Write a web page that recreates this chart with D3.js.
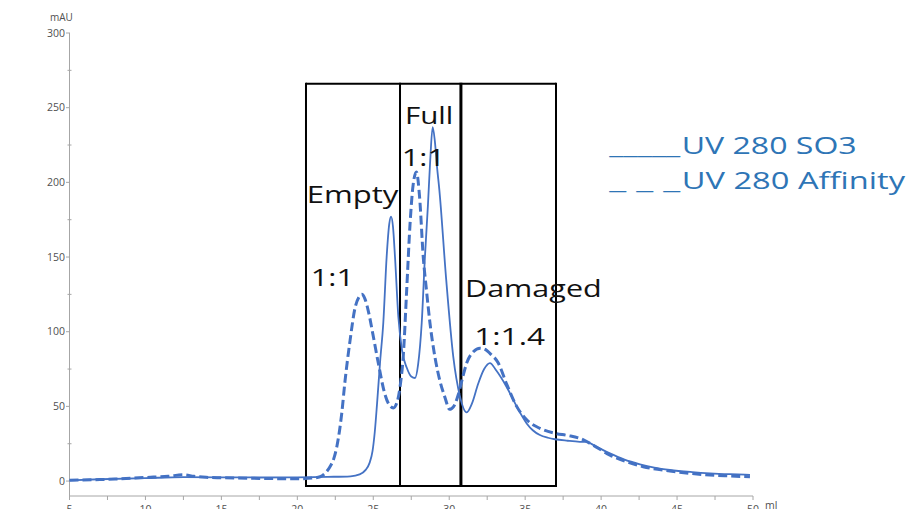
<!DOCTYPE html>
<html><head><meta charset="utf-8">
<script src="https://cdn.jsdelivr.net/npm/d3@7"></script>
<style>html,body{margin:0;padding:0;background:#fff;overflow:hidden}</style>
</head><body><svg id="c" width="912" height="509"></svg>
<script>
// ---- data ----
const so3Ml = [5,7,10,12.5,15,17.5,20,22,23.5,24.1,24.5,24.75,24.95,25.1,25.25,25.45,25.66,25.88,26.05,26.17,26.3,26.43,26.65,26.9,27.2,27.5,27.75,27.95,28.19,28.4,28.6,28.75,28.91,29.05,29.2,29.35,29.8,30.27,30.7,31.15,31.5,31.9,32.3,32.68,33.1,33.78,34.44,35.1,35.5,35.97,36.5,36.96,37.8,38.6,39.05,39.6,40.58,41.5,42.56,43.5,44.53,46,47.17,48.5,49.8];
const so3Mau = [0.5,1.2,2,2.6,2.5,2.4,2.5,2.8,3.2,4.5,7.5,12,20,33,52,80,106,150,172,177,170,150,110,87,76,70,69,78,106,150,185,215,237,228,210,195,135,83,57,46,52,65,75,79,74,63,50,38.6,34,30.8,29,28,27,26.3,26.2,23.5,18.5,14.5,11.2,9,7.4,6,5.2,4.6,4.2];
const affMl = [5,7,8,10,11.5,12.5,13.2,14,15,17.5,20,21,21.5,21.85,22.15,22.4,22.6,22.92,23.14,23.47,23.8,24.05,24.24,24.45,24.67,25,25.33,25.77,26.05,26.32,26.6,26.8,26.97,27.2,27.42,27.62,27.84,28.05,28.29,28.5,28.73,29.06,29.39,29.72,30.02,30.3,30.6,30.9,31.15,31.59,32.03,32.4,32.68,33.23,33.78,34.44,35.1,35.97,36.96,37.8,38.6,39.48,40.58,41.68,42.77,44.53,46,47.17,48.5,49.8];
const affMau = [0.5,1,1.3,2.4,3.2,4.2,3.2,2.5,2.2,1.8,1.5,2,2.9,5.5,9.6,15,23,45,67,94,116,123,125,122,114,97,79,58,51,49,54,66,83,128,172,198,207,190,150,128,106,83,67,56,48,50,58,70,79,86.6,89,88,85.5,79,65,50,41,35.3,32,30.5,28.6,24,17.4,13,9.6,6.7,5,4,3.4,2.9];
const xTicks = [5,10,15,20,25,30,35,40,45,50];
const yTicks = [0,50,100,150,200,250,300];
const regionEdges = [20.57, 26.76, 30.77, 37.03]; // ml boundaries of the fraction boxes
const regionTop = 266, regionBottom = -3.3;       // mAU
const legendMarks = ["_____", "_ _ _"];
const legendLabels = ["UV 280 SO3", "UV 280 Affinity"];

// ---- chart ----
const svg = d3.select("#c");
const x = d3.scaleLinear().domain([5,50]).range([69.5,753]);
const y = d3.scaleLinear().domain([-10,300]).range([496,33]);
const blue = "#4472C4";
const axisCol = "#a6a6a6", labCol = "#505050";
const axFont = "'Open Sans', 'DejaVu Sans', sans-serif";

// axes
const gx = svg.append("g");
gx.append("line").attr("x1",x(5)).attr("x2",x(50)).attr("y1",496).attr("y2",496).attr("stroke",axisCol);
d3.range(5,50.01,2.5).forEach(v=>{
  gx.append("line").attr("x1",x(v)).attr("x2",x(v)).attr("y1",496).attr("y2",500).attr("stroke",axisCol);
});
xTicks.forEach(v=>{
  gx.append("text").attr("x",x(v)).attr("y",513).attr("text-anchor","middle")
    .attr("font-family",axFont).attr("font-size",10.5).attr("fill",labCol).text(v);
});
gx.append("text").attr("x",765).attr("y",509).attr("font-family",axFont).attr("font-size",10.5).attr("fill",labCol).text("ml");

const gy = svg.append("g");
gy.append("line").attr("x1",69.5).attr("x2",69.5).attr("y1",y(300)).attr("y2",496).attr("stroke",axisCol);
d3.range(0,300.01,25).forEach(v=>{
  const major = v%50===0;
  gy.append("line").attr("x1",major?66:67.5).attr("x2",major?70:71.5).attr("y1",y(v)).attr("y2",y(v)).attr("stroke",axisCol);
});
yTicks.forEach(v=>{
  gy.append("text").attr("x",65).attr("y",y(v)).attr("dy","0.35em").attr("text-anchor","end")
    .attr("font-family",axFont).attr("font-size",10.5).attr("fill",labCol).text(v);
});
svg.append("text").attr("x",50).attr("y",21).attr("font-family",axFont).attr("font-size",10).attr("fill",labCol).text("mAU");

// fraction boxes
const gb = svg.append("g").attr("stroke","#000").attr("fill","none");
gb.append("line").attr("x1",x(regionEdges[0])).attr("x2",x(regionEdges[3])).attr("y1",y(regionTop)).attr("y2",y(regionTop)).attr("stroke-width",2);
gb.append("line").attr("x1",x(regionEdges[0])).attr("x2",x(regionEdges[3])).attr("y1",y(regionBottom)).attr("y2",y(regionBottom)).attr("stroke-width",2);
regionEdges.forEach((e,i)=>{
  gb.append("line").attr("x1",x(e)).attr("x2",x(e)).attr("y1",y(regionTop)-1).attr("y2",y(regionBottom)+1).attr("stroke-width",i===2?3:2);
});

// curves
const line = d3.line().x(d=>x(d[0])).y(d=>y(d[1])).curve(d3.curveMonotoneX);
svg.append("path").datum(affMl.map((m,i)=>[m,affMau[i]])).attr("d",line)
  .attr("fill","none").attr("stroke",blue).attr("stroke-width",3).attr("stroke-dasharray","9,4");
svg.append("path").datum(so3Ml.map((m,i)=>[m,so3Mau[i]])).attr("d",line)
  .attr("fill","none").attr("stroke",blue).attr("stroke-width",1.8);

// annotations
const annFont = "'Open Sans', 'Noto Sans', sans-serif";
const anns = [
  {t:"Empty", x:306.7, y:203.3, w:91.6},
  {t:"1:1", x:310.7, y:286, w:43.3},
  {t:"Full", x:405, y:123.5, w:48.3},
  {t:"1:1", x:401.7, y:166, w:43.3},
  {t:"Damaged", x:465, y:296.7, w:136.7},
  {t:"1:1.4", x:474.3, y:345, w:70.7}
];
anns.forEach(a=>{
  svg.append("text").attr("x",a.x).attr("y",a.y).attr("font-family",annFont).attr("font-size",24.5)
    .attr("fill","#111").attr("textLength",a.w).attr("lengthAdjust","spacingAndGlyphs").text(a.t);
});

// legend
const legCol = "#2E75B6";
const legPos = [{y:154, w:175},{y:189, w:223.3}];
legendLabels.forEach((t,i)=>{
  const tx = svg.append("text").attr("y",legPos[i].y).attr("font-family",annFont).attr("font-size",23.5).attr("fill",legCol);
  tx.append("tspan").attr("x",609.3).attr("textLength",71).attr("lengthAdjust","spacingAndGlyphs").text(legendMarks[i]);
  tx.append("tspan").attr("x",681.7).attr("textLength",legPos[i].w).attr("lengthAdjust","spacingAndGlyphs").text(t);
});
</script></body></html>
